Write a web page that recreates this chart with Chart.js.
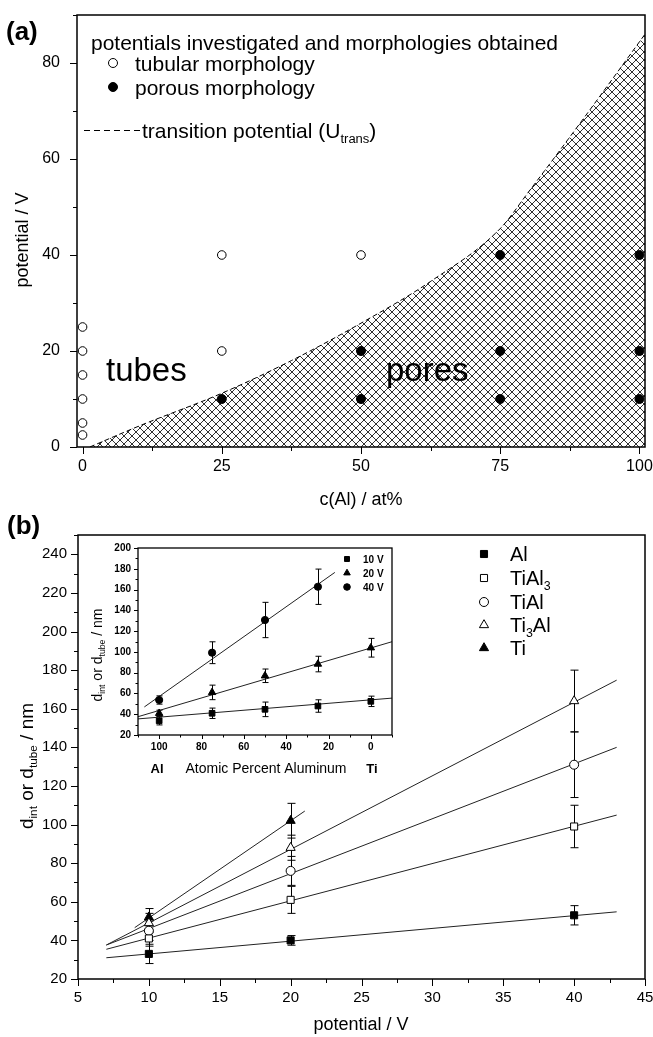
<!DOCTYPE html>
<html>
<head>
<meta charset="utf-8">
<script src="https://cdn.jsdelivr.net/npm/chart.js@4.4.1/dist/chart.umd.min.js"></script>
<style>
  body { margin: 0; background: #fff; width: 653px; height: 1037px; position: relative; overflow: hidden; }
  canvas { position: absolute; }
</style>
</head>
<body>
<canvas id="ca" width="653" height="515" style="left:0;top:0;width:653px;height:515px"></canvas>
<canvas id="cb" width="653" height="532" style="left:0;top:505px;width:653px;height:532px"></canvas>
<canvas id="cc" width="330" height="260" style="left:80px;top:530px;width:330px;height:260px"></canvas>
<script>
// (a) potentials investigated vs Al content
const tubularAl = [0, 0, 0, 0, 0, 0, 25, 25, 50];
const tubularU = [2.5, 5, 10, 15, 20, 25, 20, 40, 40];
const porousAl = [25, 50, 50, 75, 75, 75, 100, 100, 100];
const porousU = [10, 10, 20, 10, 20, 40, 10, 20, 40];
const transAl = [1.3, 10, 25, 37.5, 50, 62.5, 75, 80, 90, 101];
const transU = [0, 4.3, 11.2, 18, 25.8, 34.5, 45.5, 53, 68.5, 86];
const aTicksX = [0, 12.5, 25, 37.5, 50, 62.5, 75, 87.5, 100];
const aTicksY = [0, 10, 20, 30, 40, 50, 60, 70, 80, 90];

// (b) diameter vs potential
const potential = [10, 20, 40];
const dAl = [33, 40, 53], eAl = [5, 2.5, 5];
const dTiAl3 = [41, 61, 99], eTiAl3 = [4, 7, 11];
const dTiAl = [45, 76, 131], eTiAl = [5, 7.5, 17];
const dTi3Al = [49, 88, 164], eTi3Al = [5, 6.5, 16];
const potentialTi = [10, 20];
const dTi = [52, 102], eTi = [4.5, 9];
const fitX = [7, 43];
const fitAl = [31, 54.8];
const fitTiAl3 = [35.4, 104.9];
const fitTiAl = [37.6, 140];
const fitTi3Al = [37.6, 174.8];
const fitTiX = [9, 21];
const fitTi = [46.6, 107];
const bTicksX = [5, 7.5, 10, 12.5, 15, 17.5, 20, 22.5, 25, 27.5, 30, 32.5, 35, 37.5, 40, 42.5, 45];
const bTicksY = [20, 30, 40, 50, 60, 70, 80, 90, 100, 110, 120, 130, 140, 150, 160, 170, 180, 190, 200, 210, 220, 230, 240, 250];

// inset: diameter vs atomic percent aluminum
const alPct = [100, 75, 50, 25, 0];
const d10V = [33.7, 40.9, 44.7, 47.9, 52.4], e10V = [4, 5, 7, 6, 5];
const d20V = [40.9, 61, 77, 88.3, 104], e20V = [3, 7, 6.5, 7.5, 9];
const alPct40 = [100, 75, 50, 25];
const d40V = [53.7, 99.2, 130.7, 162.7], e40V = [4, 10.5, 17, 17];
const fitInX = [110, -10];
const fit10V = [35.5, 55.5];
const fit20V = [37.6, 109.8];
const fit40X = [107, 17];
const fit40V = [47, 176.5];
const cTicksX = [-10, 0, 10, 20, 30, 40, 50, 60, 70, 80, 90, 100, 110];
const cTicksY = [20, 30, 40, 50, 60, 70, 80, 90, 100, 110, 120, 130, 140, 150, 160, 170, 180, 190, 200];

const FONT = "'Liberation Sans', Arial, Helvetica, sans-serif";
Chart.defaults.font.family = FONT;
Chart.defaults.color = '#000';
const f = (size, bold) => (bold ? 'bold ' : '') + size + 'px ' + FONT;
const pts = (xs, ys) => xs.map((x, i) => ({ x: x, y: ys[i] }));

// text with subscripts, parts = [[text, isSub], ...], (x, y) page coords
function rich(ctx, off, parts, x, y, size, opt) {
  opt = opt || {};
  ctx.save();
  ctx.translate(x - off[0], y - off[1]);
  if (opt.rot) ctx.rotate(opt.rot);
  ctx.fillStyle = '#000';
  ctx.textAlign = 'left';
  ctx.textBaseline = 'alphabetic';
  let w = 0;
  parts.forEach(p => { ctx.font = f(p[1] ? size * 0.62 : size, opt.bold); w += ctx.measureText(p[0]).width; });
  let cx = opt.align === 'left' ? 0 : -w / 2;
  const base = size * 0.36;
  parts.forEach(p => {
    ctx.font = f(p[1] ? size * 0.62 : size, opt.bold);
    ctx.fillText(p[0], cx, p[1] ? base + size * 0.24 : base);
    cx += ctx.measureText(p[0]).width;
  });
  ctx.restore();
}

function marker(ctx, off, style, r, fill, x, y) {
  ctx.save();
  ctx.fillStyle = fill;
  ctx.strokeStyle = '#000';
  ctx.lineWidth = 1;
  Chart.helpers.drawPoint(ctx, { pointStyle: style, radius: r, borderWidth: 1, rotation: 0 }, x - off[0], y - off[1]);
  ctx.restore();
}

// frame box and outward ticks
function frameTicks(cfg) {
  return {
    id: 'frameTicks',
    afterDraw(chart) {
      const ctx = chart.ctx, a = chart.chartArea;
      const sx = chart.scales.x, sy = chart.scales.y;
      ctx.save();
      ctx.strokeStyle = '#000';
      ctx.lineWidth = 1;
      ctx.beginPath();
      sx.ticks.forEach(t => {
        const p = Math.round(sx.getPixelForValue(t.value)) + 0.5;
        const L = cfg.majX(t.value) ? cfg.len : cfg.minor;
        ctx.moveTo(p, a.bottom); ctx.lineTo(p, a.bottom + L);
      });
      sy.ticks.forEach(t => {
        const p = Math.round(sy.getPixelForValue(t.value)) + 0.5;
        const L = cfg.majY(t.value) ? cfg.len : cfg.minor;
        ctx.moveTo(a.left, p); ctx.lineTo(a.left - L, p);
      });
      ctx.stroke();
      ctx.lineWidth = cfg.lw;
      ctx.strokeRect(a.left, a.top, a.right - a.left, a.bottom - a.top);
      ctx.restore();
      if (cfg.text) cfg.text(ctx);
    }
  };
}

const errorBars = {
  id: 'errorBars',
  beforeDatasetsDraw(chart) {
    const ctx = chart.ctx, sx = chart.scales.x, sy = chart.scales.y;
    ctx.save();
    ctx.strokeStyle = '#000';
    ctx.lineWidth = 1;
    chart.data.datasets.forEach(ds => {
      if (!ds.errors) return;
      ds.data.forEach((p, i) => {
        const x = Math.round(sx.getPixelForValue(p.x)) + 0.5;
        const y1 = sy.getPixelForValue(p.y - ds.errors[i]);
        const y2 = sy.getPixelForValue(p.y + ds.errors[i]);
        const c = ds.cap;
        ctx.beginPath();
        ctx.moveTo(x, y1); ctx.lineTo(x, y2);
        ctx.moveTo(x - c, y1); ctx.lineTo(x + c, y1);
        ctx.moveTo(x - c, y2); ctx.lineTo(x + c, y2);
        ctx.stroke();
      });
    });
    ctx.restore();
  }
};

function axes(xmin, xmax, ymin, ymax, o) {
  return {
    x: {
      type: 'linear', min: xmin, max: xmax, reverse: !!o.reverse,
      grid: { display: false, drawTicks: false }, border: { display: false },
      afterBuildTicks: s => { s.ticks = o.tx.map(v => ({ value: v })); },
      afterFit: s => { s.height = o.xh; s.paddingLeft = 0; s.paddingRight = 0; },
      ticks: { autoSkip: false, maxRotation: 0, padding: o.xpad, font: o.tfont, callback: v => o.labX(v) ? String(v) : '' }
    },
    y: {
      type: 'linear', min: ymin, max: ymax,
      grid: { display: false, drawTicks: false }, border: { display: false },
      afterBuildTicks: s => { s.ticks = o.ty.map(v => ({ value: v })); },
      afterFit: s => { s.width = o.yw; s.paddingTop = 0; s.paddingBottom = 0; },
      ticks: { autoSkip: false, padding: o.ypad, font: o.tfont, callback: v => o.labY(v) ? String(v) : '' }
    }
  };
}

const base = {
  responsive: false, animation: false, events: [],
  plugins: { legend: { display: false }, tooltip: { enabled: false } }
};

// ---------- (a) ----------
const ctxA = document.getElementById('ca').getContext('2d');
const hc = document.createElement('canvas');
hc.width = 8; hc.height = 8;
const hg = hc.getContext('2d');
hg.strokeStyle = '#1a1a1a';
hg.lineWidth = 0.9;
hg.beginPath();
hg.moveTo(-1, -1); hg.lineTo(9, 9);
hg.moveTo(9, -1); hg.lineTo(-1, 9);
hg.stroke();
const hatch = ctxA.createPattern(hc, 'repeat');
const offA = [0, 0];

new Chart(ctxA, {
  type: 'line',
  data: {
    datasets: [
      { data: pts(tubularAl, tubularU), showLine: false, pointStyle: 'circle', pointRadius: 4.3,
        pointBackgroundColor: '#fff', pointBorderColor: '#000', pointBorderWidth: 1 },
      { data: pts(porousAl, porousU), showLine: false, pointStyle: 'circle', pointRadius: 4.5,
        pointBackgroundColor: '#000', pointBorderColor: '#000', pointBorderWidth: 1 },
      { data: pts(transAl, transU), borderColor: '#000', borderWidth: 1, borderDash: [5, 3],
        pointRadius: 0, fill: 'start', backgroundColor: hatch, cubicInterpolationMode: 'monotone' }
    ]
  },
  options: Object.assign({}, base, {
    layout: { padding: { left: 0, right: 8, top: 15, bottom: 0 } },
    scales: axes(-1, 101, 0, 90, {
      tx: aTicksX, ty: aTicksY, xh: 68, yw: 77, xpad: 10, ypad: 17, tfont: { size: 16 },
      labX: v => v % 25 === 0, labY: v => v % 20 === 0
    })
  }),
  plugins: [frameTicks({
    len: 7, minor: 4, lw: 1.5, majX: v => v % 25 === 0, majY: v => v % 20 === 0,
    text: ctx => {
      rich(ctx, offA, [['(a)']], 6, 31, 26, { align: 'left', bold: true });
      rich(ctx, offA, [['potentials investigated and morphologies obtained']], 91, 42, 21, { align: 'left' });
      marker(ctx, offA, 'circle', 4.5, '#fff', 113, 63);
      rich(ctx, offA, [['tubular morphology']], 135, 63, 21, { align: 'left' });
      marker(ctx, offA, 'circle', 4.5, '#000', 113, 87);
      rich(ctx, offA, [['porous morphology']], 135, 87, 21, { align: 'left' });
      ctx.save();
      ctx.strokeStyle = '#000'; ctx.lineWidth = 1; ctx.setLineDash([6, 4]);
      ctx.beginPath(); ctx.moveTo(84, 130.5); ctx.lineTo(140, 130.5); ctx.stroke();
      ctx.restore();
      rich(ctx, offA, [['transition potential (U'], ['trans', 1], [')']], 142, 130, 21, { align: 'left' });
      ctx.save();
      ctx.fillStyle = '#000'; ctx.font = f(33); ctx.textBaseline = 'alphabetic';
      ctx.fillText('tubes', 106, 381);
      ctx.fillText('pores', 386, 381);
      ctx.restore();
      rich(ctx, offA, [['c(Al) / at%']], 361, 499, 18);
      rich(ctx, offA, [['potential / V']], 22, 240, 18, { rot: -Math.PI / 2 });
    }
  })]
});

// ---------- (b) ----------
const ctxB = document.getElementById('cb').getContext('2d');
const offB = [0, 505];
const mk = (xs, ys, errs, style, r, fill) => ({
  data: pts(xs, ys), errors: errs, cap: 4, showLine: false, pointStyle: style, pointRadius: r,
  pointBackgroundColor: fill, pointBorderColor: '#000', pointBorderWidth: 1
});
const fit = (xs, ys) => ({ data: pts(xs, ys), borderColor: '#222', borderWidth: 1, pointRadius: 0, fill: false });

new Chart(ctxB, {
  type: 'line',
  data: {
    datasets: [
      mk(potential, dAl, eAl, 'rect', 5, '#000'),
      mk(potential, dTiAl3, eTiAl3, 'rect', 5, '#fff'),
      mk(potential, dTiAl, eTiAl, 'circle', 4.5, '#fff'),
      mk(potential, dTi3Al, eTi3Al, 'triangle', 5.3, '#fff'),
      mk(potentialTi, dTi, eTi, 'triangle', 5.3, '#000'),
      fit(fitX, fitAl), fit(fitX, fitTiAl3), fit(fitX, fitTiAl), fit(fitX, fitTi3Al), fit(fitTiX, fitTi)
    ]
  },
  options: Object.assign({}, base, {
    layout: { padding: { left: 0, right: 8, top: 30, bottom: 0 } },
    scales: axes(5, 45, 20, 250, {
      tx: bTicksX, ty: bTicksY, xh: 58, yw: 78, xpad: 10, ypad: 11, tfont: { size: 15 },
      labX: v => v % 5 === 0, labY: v => v % 20 === 0 && v <= 240
    })
  }),
  plugins: [errorBars, frameTicks({
    len: 7, minor: 4, lw: 1.5, majX: v => v % 5 === 0, majY: v => v % 20 === 0,
    text: ctx => {
      rich(ctx, offB, [['(b)']], 7, 525, 26, { align: 'left', bold: true });
      const lx = 484, tx = 510;
      marker(ctx, offB, 'rect', 5, '#000', lx, 554);
      rich(ctx, offB, [['Al']], tx, 554, 20, { align: 'left' });
      marker(ctx, offB, 'rect', 5, '#fff', lx, 578);
      rich(ctx, offB, [['TiAl'], ['3', 1]], tx, 578, 20, { align: 'left' });
      marker(ctx, offB, 'circle', 4.5, '#fff', lx, 602);
      rich(ctx, offB, [['TiAl']], tx, 602, 20, { align: 'left' });
      marker(ctx, offB, 'triangle', 5.3, '#fff', lx, 625);
      rich(ctx, offB, [['Ti'], ['3', 1], ['Al']], tx, 625, 20, { align: 'left' });
      marker(ctx, offB, 'triangle', 5.3, '#000', lx, 648);
      rich(ctx, offB, [['Ti']], tx, 648, 20, { align: 'left' });
      rich(ctx, offB, [['potential / V']], 361, 1024, 18);
      rich(ctx, offB, [['d'], ['int', 1], [' or d'], ['tube', 1], [' / nm']], 26, 766, 19, { rot: -Math.PI / 2 });
    }
  })]
});

// ---------- inset ----------
const ctxC = document.getElementById('cc').getContext('2d');
const offC = [80, 530];
const mkc = (xs, ys, errs, style, r) => ({
  data: pts(xs, ys), errors: errs, cap: 3, showLine: false, pointStyle: style, pointRadius: r,
  pointBackgroundColor: '#000', pointBorderColor: '#000', pointBorderWidth: 1
});

new Chart(ctxC, {
  type: 'line',
  data: {
    datasets: [
      mkc(alPct, d10V, e10V, 'rect', 4),
      mkc(alPct, d20V, e20V, 'triangle', 4.3),
      mkc(alPct40, d40V, e40V, 'circle', 3.6),
      fit(fitInX, fit10V), fit(fitInX, fit20V), fit(fit40X, fit40V)
    ]
  },
  options: Object.assign({}, base, {
    layout: { padding: { left: 0, right: 18, top: 18, bottom: 0 } },
    scales: axes(-10, 110, 20, 200, {
      reverse: true, tx: cTicksX, ty: cTicksY, xh: 55, yw: 58, xpad: 6, ypad: 7,
      tfont: { size: 10, weight: 'bold' },
      labX: v => v % 20 === 0 && v >= 0 && v <= 100, labY: v => v % 20 === 0
    })
  }),
  plugins: [errorBars, frameTicks({
    len: 4, minor: 2.5, lw: 1.3, majX: v => v % 20 === 0, majY: v => v % 20 === 0,
    text: ctx => {
      marker(ctx, offC, 'rect', 3.5, '#000', 347, 559);
      rich(ctx, offC, [['10 V']], 363, 559, 10, { align: 'left', bold: true });
      marker(ctx, offC, 'triangle', 3.8, '#000', 347, 573);
      rich(ctx, offC, [['20 V']], 363, 573, 10, { align: 'left', bold: true });
      marker(ctx, offC, 'circle', 3.3, '#000', 347, 587);
      rich(ctx, offC, [['40 V']], 363, 587, 10, { align: 'left', bold: true });
      rich(ctx, offC, [['Al']], 157, 768, 13, { bold: true });
      rich(ctx, offC, [['Ti']], 372, 768, 13, { bold: true });
      rich(ctx, offC, [['Atomic Percent Aluminum']], 266, 768, 14);
      rich(ctx, offC, [['d'], ['int', 1], [' or d'], ['tube', 1], [' / nm']], 97, 655, 14, { rot: -Math.PI / 2 });
    }
  })]
});
</script>
</body>
</html>
